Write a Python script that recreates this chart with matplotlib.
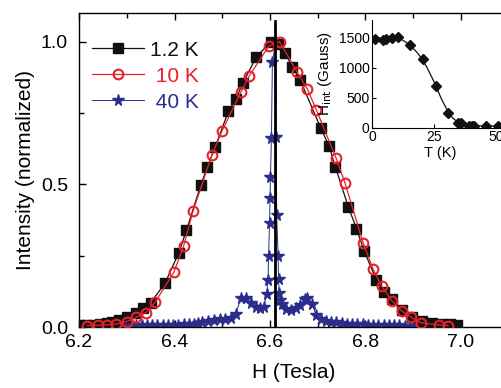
import matplotlib
matplotlib.use("Agg")
import matplotlib.pyplot as plt
from matplotlib.ticker import MultipleLocator

plt.rcParams['font.family'] = ['Liberation Sans', 'DejaVu Sans']

# ---- data: main panel ----
h_12K = [6.200, 6.215, 6.230, 6.245, 6.258, 6.270, 6.284, 6.301, 6.319, 6.334, 6.350,
         6.380, 6.409, 6.425, 6.455, 6.469, 6.485, 6.513, 6.528, 6.543, 6.571, 6.602,
         6.617, 6.632, 6.647, 6.663, 6.706, 6.724, 6.737, 6.764, 6.781, 6.797, 6.823,
         6.839, 6.856, 6.877, 6.898, 6.919, 6.939, 6.960, 6.978, 6.992]
i_12K = [0.008, 0.008, 0.008, 0.010, 0.013, 0.019, 0.024, 0.036, 0.048, 0.065, 0.085,
         0.153, 0.260, 0.339, 0.497, 0.561, 0.630, 0.756, 0.797, 0.854, 0.945, 1.000,
         0.990, 0.960, 0.910, 0.866, 0.698, 0.633, 0.560, 0.421, 0.345, 0.267, 0.164,
         0.123, 0.097, 0.059, 0.036, 0.021, 0.015, 0.010, 0.009, 0.008]

h_10K = [6.217, 6.240, 6.258, 6.277, 6.300, 6.320, 6.340, 6.360, 6.399, 6.419, 6.439,
         6.478, 6.499, 6.539, 6.557, 6.597, 6.620, 6.657, 6.678, 6.697, 6.738, 6.757,
         6.795, 6.816, 6.834, 6.855, 6.876, 6.896, 6.916, 6.954, 6.973]
i_10K = [0.005, 0.006, 0.008, 0.010, 0.019, 0.034, 0.050, 0.088, 0.193, 0.283, 0.407,
         0.601, 0.685, 0.823, 0.881, 0.983, 0.999, 0.893, 0.834, 0.761, 0.593, 0.505,
         0.295, 0.202, 0.143, 0.092, 0.056, 0.034, 0.015, 0.007, 0.005]

h_40K = [6.210, 6.221, 6.232, 6.243, 6.254, 6.265, 6.276, 6.287, 6.298, 6.309, 6.320,
         6.331, 6.342, 6.353, 6.364, 6.375, 6.386, 6.397, 6.408, 6.419, 6.430, 6.441,
         6.450, 6.458, 6.471, 6.483, 6.495, 6.506, 6.518, 6.528, 6.539, 6.549, 6.560,
         6.570, 6.579, 6.587, 6.593, 6.596, 6.597, 6.599, 6.600, 6.601, 6.603, 6.605,
         6.612, 6.613, 6.614, 6.617, 6.618, 6.619, 6.621, 6.626, 6.634, 6.643, 6.654,
         6.663, 6.673, 6.678, 6.689, 6.696, 6.706, 6.717, 6.728, 6.739, 6.750, 6.761,
         6.772, 6.783, 6.794, 6.805, 6.816, 6.827, 6.838, 6.849, 6.860, 6.871, 6.882,
         6.893, 6.904, 6.915, 6.926, 6.937]
i_40K = [0.005, 0.005, 0.005, 0.005, 0.005, 0.005, 0.005, 0.005, 0.005, 0.006, 0.006,
         0.006, 0.006, 0.006, 0.006, 0.006, 0.007, 0.007, 0.008, 0.009, 0.010, 0.012,
         0.015, 0.019, 0.022, 0.024, 0.027, 0.027, 0.030, 0.045, 0.100, 0.100, 0.083,
         0.071, 0.068, 0.071, 0.115, 0.164, 0.248, 0.363, 0.453, 0.526, 0.663, 0.928,
         1.000, 0.665, 0.392, 0.248, 0.167, 0.120, 0.094, 0.080, 0.062, 0.059, 0.065,
         0.077, 0.097, 0.100, 0.080, 0.042, 0.027, 0.022, 0.019, 0.016, 0.014, 0.012,
         0.011, 0.010, 0.009, 0.008, 0.008, 0.007, 0.007, 0.006, 0.006, 0.006, 0.005,
         0.005, 0.005, 0.005, 0.005, 0.005]

h_line = [6.61, 6.61]
i_line = [0.0, 1.073]

labels = ["1.2 K", " 10 K", " 40 K"]

# ---- data: inset ----
T_int = [1.2, 4.2, 5.5, 8.0, 10.5, 15.2, 20.3, 25.5, 30.7, 34.7, 35.6, 39.1, 40.3, 41.1, 45.9, 50.8]
H_int = [1480, 1460, 1490, 1495, 1520, 1375, 1140, 700, 240, 83, 72, 33, 33, 33, 28, 28]
T_fit = [0, 5, 10, 12, 15, 18, 20, 22, 25, 28, 30, 32, 35, 38, 40, 45, 50, 55]
H_fit = [1500, 1500, 1495, 1470, 1390, 1260, 1150, 1010, 760, 470, 310, 180, 70, 40, 32, 28, 28, 28]

black = '#111111'
red = '#e8202a'
blue = '#2a2d8c'

fig = plt.figure(figsize=(5.01, 3.88), dpi=100)
ax = fig.add_axes([79/501, 61/388, 429.75/501, 314/388])

l1, = ax.plot(h_12K, i_12K, '-', color=black, lw=0.9, marker='s', ms=6.5,
              mfc=black, mec=black, label=labels[0], zorder=3)
l2, = ax.plot(h_10K, i_10K, '-', color=red, lw=0.9, marker='o', ms=7,
              mfc='none', mec=red, mew=1.5, label=labels[1], zorder=4)
l3, = ax.plot(h_40K, i_40K, '-', color=blue, lw=0.7, marker='*', ms=8.5,
              mfc=blue, mec=blue, label=labels[2], zorder=2)
ax.plot(h_line, i_line, '-', color='black', lw=2.0, zorder=5)

ax.set_xlim(6.2, 7.1)
ax.set_ylim(0.0, 1.1)
ax.xaxis.set_major_locator(MultipleLocator(0.2))
ax.xaxis.set_minor_locator(MultipleLocator(0.1))
ax.yaxis.set_major_locator(MultipleLocator(0.5))
ax.yaxis.set_minor_locator(MultipleLocator(0.25))
ax.xaxis.set_major_formatter(matplotlib.ticker.FormatStrFormatter('%.1f'))
ax.yaxis.set_major_formatter(matplotlib.ticker.FormatStrFormatter('%.1f'))
ax.tick_params(which='both', direction='in', top=True, right=False, labelsize=14)
ax.tick_params(which='major', length=5, width=1)
ax.tick_params(which='minor', length=3.5, width=1)
ax.tick_params(axis='x', pad=5)
ax.tick_params(axis='y', pad=8)
for s in ax.spines.values():
    s.set_linewidth(1.0)
ax.spines['right'].set_visible(False)

ax.set_xlabel('H (Tesla)', fontsize=15, labelpad=9)
ax.set_ylabel('Intensity (normalized)', fontsize=15, labelpad=4)

leg = ax.legend(handles=[l1, l2, l3], loc='upper left', bbox_to_anchor=(-0.014, 0.972),
                frameon=False, fontsize=15, handlelength=2.5, handletextpad=0.3,
                labelspacing=0.34, borderaxespad=0.5)
for t, c in zip(leg.get_texts(), [black, red, blue]):
    t.set_color(c)

# ---- inset ----
ins = fig.add_axes([372.3/501, (388-127.7)/388, 136.4/501, 107.7/388])
ins.plot(T_fit, H_fit, '-', color=black, lw=0.9)
ins.plot(T_int, H_int, 'D', color=black, ms=5, ls='none')
ins.set_xlim(0, 55)
ins.set_ylim(0, 1800)
ins.set_xticks([0, 25, 50])
ins.set_yticks([0, 500, 1000, 1500])
ins.tick_params(direction='in', labelsize=10, length=3, pad=2)
ins.spines['top'].set_visible(False)
ins.spines['right'].set_visible(False)
ins.set_xlabel('T (K)', fontsize=10.5, labelpad=1)
ins.set_ylabel('H$_{\\rm int}$ (Gauss)', fontsize=11, labelpad=3)
ins.patch.set_alpha(0)

fig.savefig('out.png', dpi=100)
